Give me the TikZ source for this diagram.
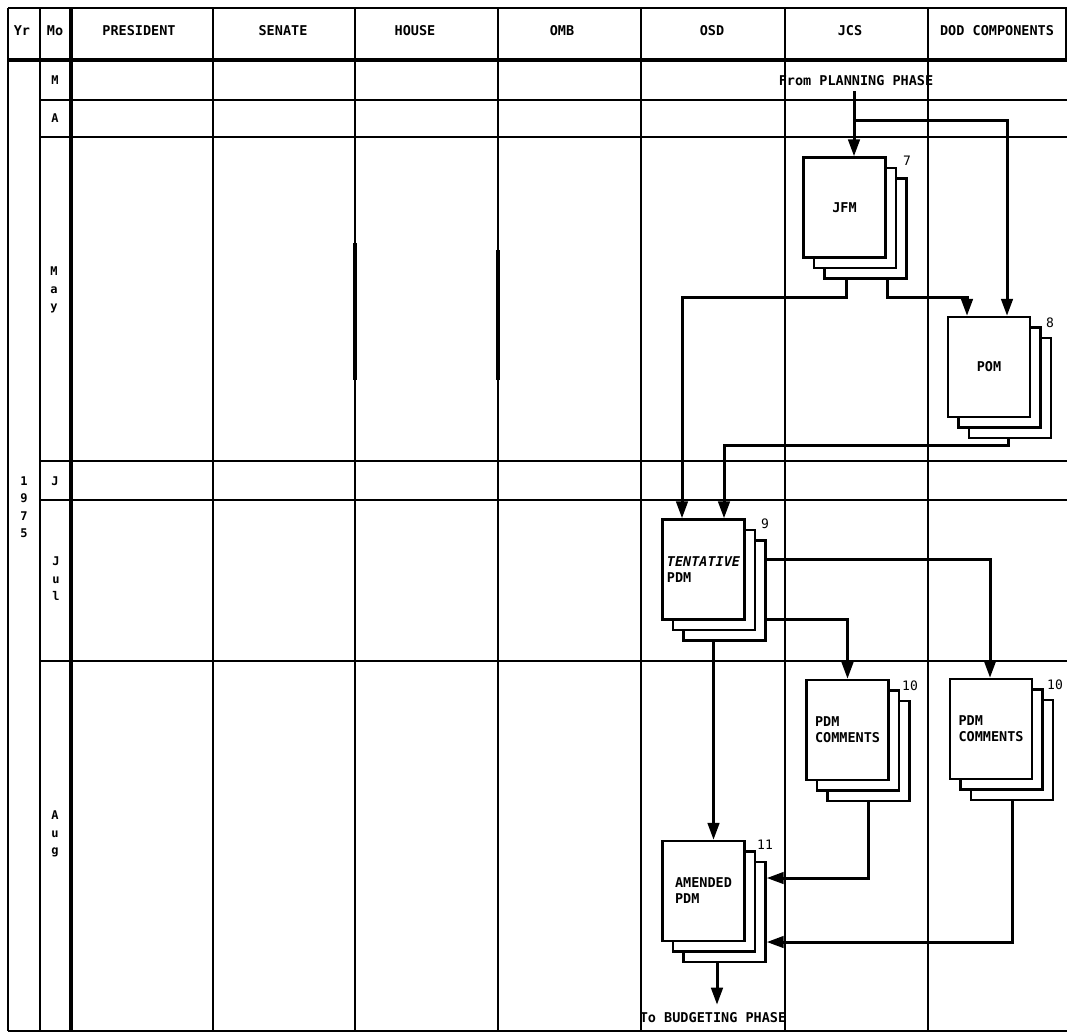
\documentclass[tikz,border=0pt]{standalone}
\usepackage{fontspec}
\setmonofont{DejaVu Sans Mono}
\usetikzlibrary{shadows,arrows.meta,calc}
\begin{document}
\begin{tikzpicture}[x=1pt,y=-1pt,
  grid/.style={line width=2.6pt},
  heavygrid/.style={line width=3.8pt},
  conn/.style={line width=3pt,-{Triangle[length=17pt,width=11.5pt]}},
  doc/.style={draw,line width=2.4pt,fill=white,minimum width=82pt,minimum height=100pt,inner sep=0pt,align=left,
    copy shadow={shadow xshift=21pt,shadow yshift=-21pt},
    copy shadow={shadow xshift=10.5pt,shadow yshift=-10.5pt},
    font=\ttfamily\bfseries\fontsize{13.5}{16}\selectfont},
  lbl/.style={font=\ttfamily\bfseries\fontsize{13.5}{16}\selectfont,inner sep=1pt},
  stack/.style={font=\ttfamily\bfseries\fontsize{12}{17.5}\selectfont,inner sep=0pt,align=center},
  num/.style={font=\ttfamily\fontsize{13}{15}\selectfont,inner sep=0pt},
]
\useasboundingbox (0,0) rectangle (1067,1034);
% ---- grid ----
\foreach \x in {8,40,213,355,498,641,785,928}
  \draw[grid] (\x,8) -- (\x,1031);
\draw[heavygrid] (71,8) -- (71,1031);
\draw[grid] (8,8) -- (1067,8);
\draw[heavygrid] (8,60) -- (1067,60);
\draw[grid] (8,1031) -- (1067,1031);
\draw[grid] (1066,8) -- (1066,60);
\foreach \y in {100,137,461,500,661}
  \draw[grid] (40,\y) -- (1067,\y);
\draw[line width=4pt] (355,243) -- (355,380);
\draw[line width=4pt] (498,250) -- (498,380);
% ---- header ----
\node[lbl] (hyr) at (22,31) {Yr};
\node[lbl] (hmo) at (55,31) {Mo};
\node[lbl] (hpres) at (139,31) {PRESIDENT};
\node[lbl] (hsen) at (283,31) {SENATE};
\node[lbl] (hhouse) at (415,31) {HOUSE};
\node[lbl] (homb) at (562,31) {OMB};
\node[lbl] (hosd) at (712,31) {OSD};
\node[lbl] (hjcs) at (850,31) {JCS};
\node[lbl] (hdod) at (997,31) {DOD COMPONENTS};
% ---- rows ----
\node[stack] (yr) at (24,507) {1\\9\\7\\5};
\node[stack] (mM) at (55,80) {M};
\node[stack] (mA) at (55,118) {A};
\node[stack] (mMay) at (54,290) {M\\a\\y};
\node[stack] (mJun) at (55,481) {J};
\node[stack] (mJul) at (56,579) {J\\u\\l};
\node[stack] (mAug) at (55,834) {A\\u\\g};
% ---- documents ----
\node[doc] (jfm) at (844.5,207.5) {JFM};
\node[doc] (pom) at (989,367) {POM};
\node[doc] (tent) at (703.5,569.5) {{\itshape TENTATIVE}\\PDM};
\node[doc] (jcsc) at (847.5,730) {PDM\\COMMENTS};
\node[doc] (dodc) at (991,729) {PDM\\COMMENTS};
\node[doc] (amen) at (703.5,891) {AMENDED\\PDM};
\node[num] (n7) at (907,161) {7};
\node[num] (n8) at (1050,323) {8};
\node[num] (n9) at (765,524) {9};
\node[num] (n10a) at (910,686) {10};
\node[num] (n10b) at (1055,685) {10};
\node[num] (n11) at (765,845) {11};
% ---- phase texts ----
\node[lbl] (fromtxt) at (856,81) {From PLANNING PHASE};
\node[lbl] (totxt) at (713,1018) {To BUDGETING PHASE};
% ---- connector coordinates ----
\coordinate (split) at (854,120);
\coordinate (jbend) at (0,297);
\coordinate (pbend) at (0,445);
\coordinate (jfmIn) at ([xshift=9.5pt]jfm.north);
\coordinate (pomInL) at ([xshift=-22pt]pom.north);
\coordinate (pomInR) at ([xshift=18pt]pom.north);
\coordinate (jfmOutL) at ([xshift=1.5pt,yshift=-21pt]jfm.south);
\coordinate (jfmOutR) at ([xshift=42.5pt,yshift=-21pt]jfm.south);
\coordinate (pomOut) at ([xshift=19pt,yshift=-21pt]pom.south);
\coordinate (tentInL) at ([xshift=-21.5pt]tent.north);
\coordinate (tentInR) at ([xshift=20.5pt]tent.north);
\coordinate (tentOutA) at ([xshift=21pt,yshift=10.5pt]tent.east);
\coordinate (tentOutB) at ([xshift=21pt,yshift=-50pt]tent.east);
\coordinate (tentOutC) at ([xshift=10pt,yshift=-21pt]tent.south);
\coordinate (amenIn) at ([xshift=10pt]amen.north);
\coordinate (jcscOut) at ([xshift=20.5pt,yshift=-21pt]jcsc.south);
\coordinate (dodcOut) at ([xshift=21pt,yshift=-21pt]dodc.south);
\coordinate (amenInA) at ([xshift=21pt,yshift=13pt]amen.east);
\coordinate (amenInB) at ([xshift=21pt,yshift=-51pt]amen.east);
\coordinate (amenOut) at ([xshift=13.5pt,yshift=-21pt]amen.south);
\coordinate (toBudget) at ([yshift=7pt]amenOut |- totxt.north);
% ---- connectors ----
\draw[conn] ([yshift=-4pt]fromtxt.south -| split) -- (jfmIn);
\draw[conn] (split) -| (pomInR);
\draw[conn] (jfmOutL) -- (jfmOutL |- jbend) -| (tentInL);
\draw[conn] (jfmOutR) |- (pomInL |- jbend) -- (pomInL);
\draw[conn] (pomOut) |- (tentInR |- pbend) -- (tentInR);
\draw[conn] (tentOutA) -| ([xshift=-1pt]dodc.north);
\draw[conn] (tentOutB) -| (jcsc.north);
\draw[conn] (tentOutC) -- (amenIn);
\draw[conn] (jcscOut) |- (amenInA);
\draw[conn] (dodcOut) |- (amenInB);
\draw[conn] (amenOut) -- (toBudget);
\end{tikzpicture}
\end{document}
